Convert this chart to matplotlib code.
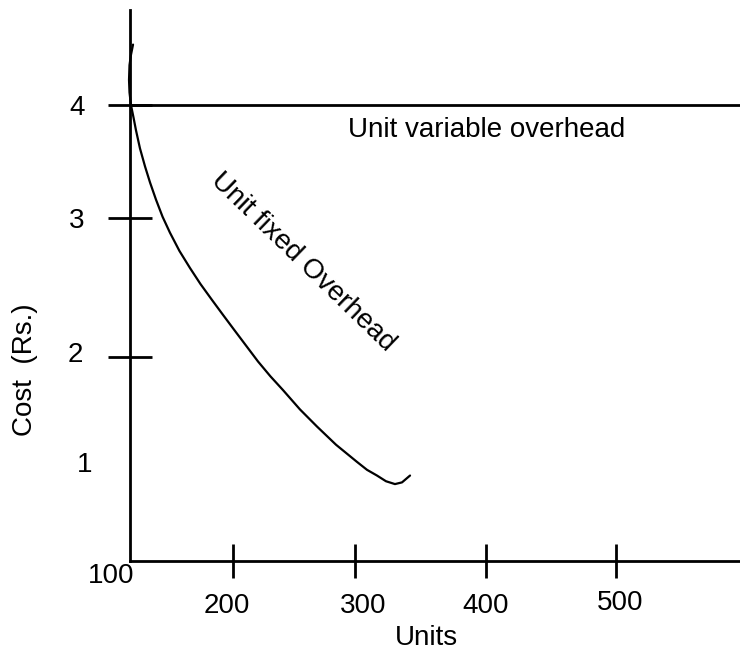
import matplotlib
matplotlib.use("Agg")
import matplotlib.pyplot as plt

plt.rcParams['font.family'] = ['Liberation Sans', 'DejaVu Sans']

# ---- data (units on x, cost in Rs. on y) ----
fixed_units = [102.5, 100.8, 99.6, 99.2, 99.6, 100.8, 102.9, 104.9, 108.2, 112.4,
               116.5, 121.4, 126.8, 132.9, 140.7, 149.4, 158.0, 167.5, 176.5, 185.6,
               195.5, 205.4, 215.6, 225.9, 239.9, 253.9, 269.6, 286.8, 295.1, 303.3,
               310.7, 318.1, 323.9, 327.2, 330.5]
fixed_cost = [4.53, 4.44, 4.35, 4.22, 4.11, 4.00, 3.89, 3.78, 3.62, 3.46,
              3.32, 3.17, 3.02, 2.88, 2.72, 2.57, 2.43, 2.29, 2.16, 2.03,
              1.89, 1.75, 1.62, 1.50, 1.33, 1.18, 1.02, 0.87, 0.80, 0.75,
              0.70, 0.675, 0.69, 0.72, 0.75]
variable_cost = 4.0

x_tick_pos = [185, 285, 393, 500]
x_tick_labels = ['100', '200', '300', '400', '500']
x_label_pos = [(84.4, -0.13), (180.0, -0.39), (291.8, -0.39), (393.0, -0.39), (503.3, -0.37)]
y_tick_pos = [4.0, 3.01, 1.79]
y_tick_labels = ['4', '3', '2', '1']
y_label_pos = [(56.4, 3.97), (56.4, 2.98), (54.7, 1.81), (63.0, 0.84)]

x_min, x_max = -7.0, 602.1
y_min, y_max = -0.789, 4.921
axis_x0, axis_y0, axis_ytop = 100, 0, 4.833

fs = 20

fig = plt.figure(figsize=(7.4, 6.51), dpi=100)
ax = fig.add_axes([0, 0, 1, 1])
ax.set_xlim(x_min, x_max)
ax.set_ylim(y_min, y_max)
ax.patch.set_visible(False)

for s in ['top', 'right']:
    ax.spines[s].set_visible(False)
ax.spines['left'].set_position(('data', axis_x0))
ax.spines['bottom'].set_position(('data', axis_y0))
ax.spines['left'].set_bounds(axis_y0, axis_ytop)
ax.spines['bottom'].set_bounds(axis_x0, x_max)
for s in ['left', 'bottom']:
    ax.spines[s].set_linewidth(2.0)
    ax.spines[s].set_color('black')

ax.set_xticks(x_tick_pos)
ax.set_yticks(y_tick_pos)
ax.tick_params(axis='x', direction='inout', length=25, width=2.0, labelbottom=False)
ax.tick_params(axis='y', direction='inout', length=31, width=2.0, labelleft=False)

# unit variable overhead (horizontal line)
ax.plot([axis_x0, x_max], [variable_cost, variable_cost], color='black', lw=2.0,
        solid_capstyle='butt', clip_on=False)
# unit fixed overhead curve
ax.plot(fixed_units, fixed_cost, color='black', lw=1.6, solid_capstyle='round',
        solid_joinstyle='round', antialiased=True)

for lab, (x, y) in zip(x_tick_labels, x_label_pos):
    ax.text(x, y, lab, fontsize=fs, ha='center', va='center')
for lab, (x, y) in zip(y_tick_labels, y_label_pos):
    ax.text(x, y, lab, fontsize=fs, ha='center', va='center')

ax.text(343.6, -0.675, 'Units', fontsize=fs, ha='center', va='center')
ax.text(13.6, 1.675, 'Cost  (Rs.)', fontsize=fs, ha='center', va='center', rotation=90)
ax.text(393.8, 3.781, 'Unit variable overhead', fontsize=fs, ha='center', va='center')
ax.text(242.0, 2.62, 'Unit fixed Overhead', fontsize=fs, ha='center', va='center',
        rotation=-44, rotation_mode='anchor')

fig.savefig('out.png', dpi=100)
